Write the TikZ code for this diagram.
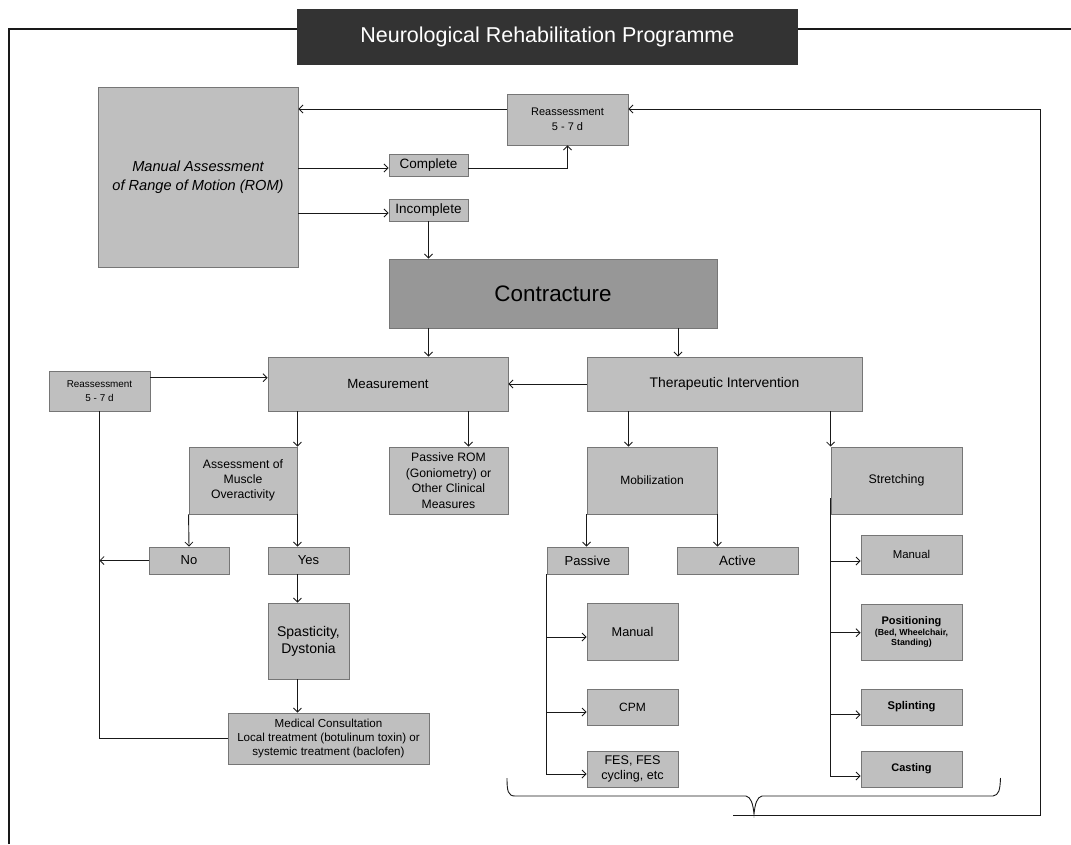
\documentclass[tikz,border=0pt]{standalone}
\usepackage{fontspec}
\setmainfont{Liberation Sans}
\usetikzlibrary{arrows.meta,calc}
\definecolor{boxfill}{RGB}{191,191,191}
\definecolor{boxedge}{RGB}{118,118,118}
\definecolor{darkfill}{RGB}{151,151,151}
\definecolor{titlefill}{RGB}{51,51,51}
\definecolor{linecol}{RGB}{25,25,25}
\newcommand{\fs}[2]{\fontsize{#1}{#2}\selectfont}
\begin{document}
\begin{tikzpicture}[x=1pt,y=-1pt,
  box/.style={draw=boxedge, fill=boxfill, line width=0.9pt, inner sep=0pt, align=center, text=black},
  arr/.style={draw=linecol, line width=0.9pt, -{Straight Barb[length=4pt,width=8pt,line width=0.8pt]}},
  ln/.style={draw=linecol, line width=0.9pt},
]
\useasboundingbox (0,0) rectangle (1071,844);

% frame
\draw[ln, line width=1.1pt] (9,844) -- (9,29) -- (1071,29);
\node[fill=titlefill, inner sep=0pt, minimum width=500.7pt, minimum height=55.7pt, text=white, font=\fs{21.5}{25}] (title) at (547.4,36.8) {Neurological Rehabilitation Programme};

% nodes
\node[box, minimum width=200pt, minimum height=180pt, font=\itshape\fs{14.6}{19}] (manual) at (198,177) {Manual Assessment\\ of Range of Motion (ROM)};
\node[box, minimum width=121pt, minimum height=51pt, font=\fs{11}{15.5}] (reassT) at (567.5,119.5) {Reassessment\\5 - 7 d};
\node[box, minimum width=79pt, minimum height=22pt, font=\fs{13.5}{16}] (complete) at (428.5,165) {Complete};
\node[box, minimum width=79pt, minimum height=22pt, font=\fs{13.5}{16}] (incomplete) at (428.5,210) {Incomplete};
\node[box, fill=darkfill, minimum width=328pt, minimum height=69pt, font=\fs{22.4}{26}] (contracture) at (553,293.5) {Contracture};
\node[box, minimum width=240pt, minimum height=54pt, font=\fs{13.3}{16}] (measure) at (388,384) {Measurement};
\node[box, minimum width=275pt, minimum height=54pt, font=\fs{13.9}{16}] (therapy) at (724.5,384) {Therapeutic Intervention};
\node[box, minimum width=101pt, minimum height=40pt, font=\fs{9.9}{14}] (reassL) at (99.5,391) {Reassessment\\5 - 7 d};
\node[box, minimum width=108pt, minimum height=67pt, font=\fs{12.2}{15.3}] (assess) at (243,480.5) {Assessment of\\Muscle\\Overactivity};
\node[box, minimum width=119pt, minimum height=67pt, font=\fs{12.2}{15.6}] (passrom) at (448.5,480.5) {Passive ROM\\(Goniometry) or\\Other Clinical\\Measures};
\node[box, minimum width=130pt, minimum height=67pt, font=\fs{12}{15}] (mobil) at (652,480.5) {Mobilization};
\node[box, minimum width=131pt, minimum height=67pt, font=\fs{12.4}{15}] (stretch) at (896.5,480.5) {Stretching};
\node[box, minimum width=80pt, minimum height=27pt, font=\fs{13}{16}] (no) at (189,560.5) {No};
\node[box, minimum width=81pt, minimum height=27pt, font=\fs{13}{16}] (yes) at (308.5,560.5) {Yes};
\node[box, minimum width=81pt, minimum height=27pt, font=\fs{13}{16}] (passive) at (587.5,560.5) {Passive};
\node[box, minimum width=121pt, minimum height=27pt, font=\fs{13.5}{16}] (active) at (737.5,560.5) {Active};
\node[box, minimum width=101pt, minimum height=39pt, font=\fs{11.4}{14}] (smanual) at (911.5,554.5) {Manual};
\node[box, minimum width=81pt, minimum height=76pt, font=\fs{14}{17}] (spast) at (308.5,641) {Spasticity,\\Dystonia};
\node[box, minimum width=91pt, minimum height=57pt, font=\fs{12.7}{15}] (mmanual) at (632.5,631.5) {Manual};
\node[box, minimum width=101pt, minimum height=56pt, font=\bfseries\fs{8.8}{9.8}] (position) at (911.5,632) {{\fs{11}{13}Positioning}\\[1.5pt](Bed, Wheelchair,\\Standing)};
\node[box, minimum width=91pt, minimum height=36pt, font=\fs{12}{15}] (cpm) at (632.5,707) {CPM};
\node[box, minimum width=101pt, minimum height=36pt, font=\bfseries\fs{11.2}{14}] (splint) at (911.5,707) {Splinting};
\node[box, minimum width=201pt, minimum height=51pt, font=\fs{11.6}{14.2}] (medical) at (328.5,738.5) {Medical Consultation\\Local treatment (botulinum toxin) or\\systemic treatment (baclofen)};
\node[box, minimum width=91pt, minimum height=36pt, font=\fs{12.6}{15.3}] (fes) at (632.5,769) {FES, FES\\cycling, etc};
\node[box, minimum width=101pt, minimum height=36pt, font=\bfseries\fs{11}{14}] (casting) at (911.5,769) {Casting};

% helper coordinates
\coordinate (lt) at (1040,109);
\coordinate (lr) at (1040,815);
\coordinate (lb) at (733,815);
\coordinate (tip) at (754,814);
\coordinate (sv) at (830.5,498);

% top connectors
\draw[arr] (reassT.west |- lt) -- (manual.east |- lt);
\draw[arr] ([yshift=-3pt]manual.east |- complete) -- ([yshift=-3pt]complete.west);
\draw[arr] ([yshift=-3pt]manual.east |- incomplete) -- ([yshift=-3pt]incomplete.west);
\draw[arr] ([yshift=-3pt]complete.east) -| (reassT.south);
\draw[arr] (incomplete.south) -- (incomplete.south |- contracture.north);
\draw[arr] (incomplete.south |- contracture.south) -- (incomplete.south |- measure.north);
\draw[arr] ([xshift=125pt]contracture.south) -- ([xshift=125pt]contracture.south |- therapy.north);
\draw[arr] (therapy.west) -- (measure.east);
\draw[arr] ([yshift=13.3pt]reassL.east) -- ([yshift=13.3pt]reassL.east -| measure.west);

% left branch
\draw[ln] (reassL.south) -- (reassL.south |- medical.west) -- (medical.west);
\draw[arr] (no.west) -- (reassL.south |- no.west);
\draw[arr] (assess.north east |- measure.south) -- (assess.north east);
\draw[arr] ([xshift=20pt]passrom.north |- measure.south) -- ([xshift=20pt]passrom.north);
\draw[arr] (assess.south west) -- (no.north);
\draw[arr] (assess.south east) -- (assess.south east |- yes.north);
\draw[arr] (assess.south east |- yes.south) -- (assess.south east |- spast.north);
\draw[arr] (assess.south east |- spast.south) -- (assess.south east |- medical.north);

% right branch
\draw[arr] (passive.east |- therapy.south) -- (passive.east |- mobil.north);
\draw[arr] (stretch.north west |- therapy.south) -- (stretch.north west);
\draw[arr] (mobil.south west) -- (mobil.south west |- passive.north);
\draw[arr] (mobil.south east) -- (mobil.south east |- active.north);

\draw[arr] (passive.south west) |- ([yshift=-5pt]fes.west);
\draw[arr] (passive.south west |- mmanual.west) ++(0,5.5) -- ([yshift=-5.5pt]mmanual.west);
\draw[arr] (passive.south west |- cpm.west) ++(0,5) -- ([yshift=-5pt]cpm.west);

\draw[arr] (sv) |- ([yshift=-7pt]casting.west);
\draw[arr] (sv |- smanual.west) ++(0,6.5) -- ([yshift=-6.5pt]smanual.west);
\draw[arr] (sv |- position.west) ++(0,0.7) -- ([yshift=-0.7pt]position.west);
\draw[arr] (sv |- splint.west) ++(0,7.7) -- ([yshift=-7.7pt]splint.west);

% brace
\draw[ln] (507,778) .. controls (507,791) and (508,796) .. (515,796) -- (746,796)
  .. controls (751,797) and (753,804) .. (tip)
  .. controls (755,804) and (757,797) .. (762,796) -- (993,796)
  .. controls (999,795) and (1000,790) .. (1000.5,778);

% feedback loop
\draw[arr] (lb) -- (lr) -- (lt) -- (reassT.east |- lt);
\end{tikzpicture}
\end{document}
